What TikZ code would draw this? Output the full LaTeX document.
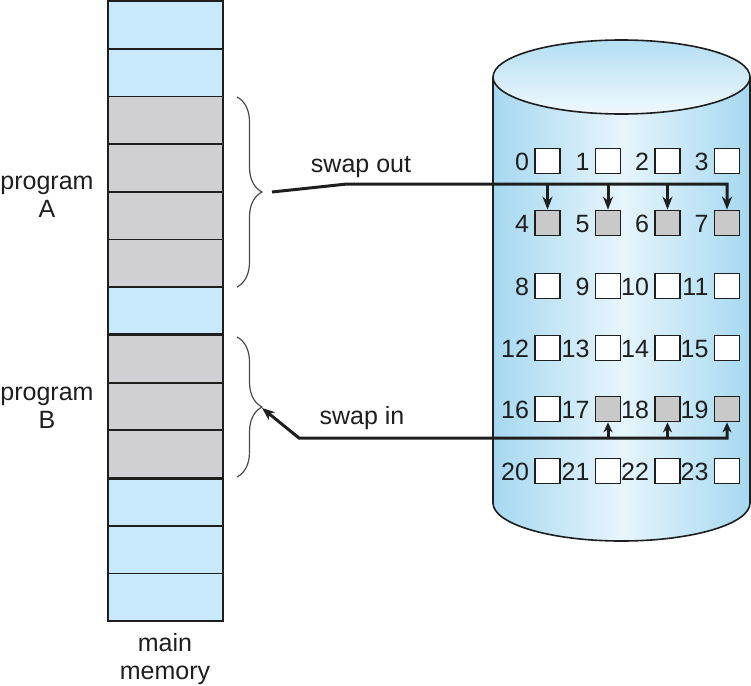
\documentclass[tikz,border=0pt]{standalone}
\usepackage{fontspec}
\setmainfont{Liberation Sans}
\usetikzlibrary{arrows.meta,decorations.pathreplacing,calc}
\definecolor{memblue}{HTML}{C7E9FB}
\definecolor{memgray}{HTML}{D0CFD4}
\definecolor{boxgray}{HTML}{C9C9C9}
\definecolor{cylEdge}{HTML}{A6D8F1}
\definecolor{cylMid}{HTML}{E6F5FC}
\definecolor{capTop}{HTML}{B3DEF3}
\definecolor{capBot}{HTML}{F0F9FE}
\definecolor{inkc}{HTML}{1E1E1E}
\begin{document}
\begin{tikzpicture}[x=1pt,y=-1pt,
  font=\fontsize{25}{28}\selectfont, text=inkc,
  memcell/.style={draw=inkc, line width=1.8pt, minimum width=115pt, minimum height=47.7pt, inner sep=0pt},
  cell/.style={draw=inkc, line width=1.8pt, minimum size=25pt, inner sep=0pt, fill=white},
  numlbl/.style={anchor=east, inner sep=0pt},
  conn/.style={draw=inkc, line width=3pt},
  tipbig/.style={-{Stealth[length=13pt,width=10pt]}},
  tipsmall/.style={length=10pt,width=9pt},
  bracestyle/.style={draw=inkc!80, line width=1.2pt, decorate, decoration={brace, amplitude=25pt}},
  lbl/.style={align=center, inner sep=0pt}]
\useasboundingbox (0,0) rectangle (751,685);

% main memory column
\foreach \i/\c in {1/memblue,2/memblue,3/memgray,4/memgray,5/memgray,6/memgray,7/memblue,8/memgray,9/memgray,10/memgray,11/memblue,12/memblue,13/memblue}
  \node[memcell, fill=\c] (m\i) at (165.5,{1+(\i-0.5)*47.7}) {};
\draw[inkc, line width=2.6pt] (m8.north west) -- (m8.north east);
\draw[inkc, line width=2.6pt] (m10.south west) -- (m10.south east);

% labels
\node[lbl] (pa) at (47,197) {program\\A};
\node[lbl] (pb) at (47,408) {program\\B};
\node[lbl] (mm) at (165,659) {main\\memory};

% braces
\draw[bracestyle] (237,97) -- (237,287);
\draw[bracestyle] (237,337) -- (237,477);

% cylinder
\path[shading=axis, left color=cylEdge, right color=cylEdge, middle color=cylMid]
  (493,77) -- (493,503) arc[start angle=180, end angle=0, x radius=128.5, y radius=38] -- (750,77) -- cycle;
\draw[inkc, line width=1.6pt] (493,77) -- (493,503) arc[start angle=180, end angle=0, x radius=128.5, y radius=38] -- (750,77);
\draw[inkc, line width=1.6pt, top color=capTop, bottom color=capBot] (621.5,77) ellipse[x radius=128.5, y radius=37];

% blocks on the disk
\foreach \r/\y in {0/161,1/223,2/286,3/348,4/409,5/471} {
  \foreach \c/\x in {0/547.5,1/608,2/667.5,3/727} {
    \pgfmathtruncatemacro{\n}{4*\r+\c}
    \node[cell] (b\n) at (\x,\y) {};
    \node[numlbl] (l\n) at ($(b\n.west)+(-5,1)$) {\n};
  }
}
\foreach \n in {4,5,6,7,17,18,19} \node[cell, fill=boxgray] at (b\n) {};

% swap out
\coordinate (soA) at (272,192);
\coordinate (soB) at (347,184);
\draw[conn, tipbig] (soA) -- (soB) -| (b7.north);
\foreach \n in {4,5,6} \draw[conn, tipbig] (b\n.north |- soB) -- (b\n.north);
\node (swo) at (361,167) {swap out};

% swap in
\coordinate (siK) at (299,438);
\coordinate (siT) at (262,408);
\draw[conn, {Stealth[length=10pt,width=9pt]}-{Stealth[length=13pt,width=10pt]}] (b19.south) |- (siK) -- (siT);
\foreach \n in {17,18} \draw[conn, -{Stealth[length=10pt,width=9pt]}] (b\n.south |- siK) -- (b\n.south);
\node (swi) at (362,418) {swap in};
\end{tikzpicture}
\end{document}
